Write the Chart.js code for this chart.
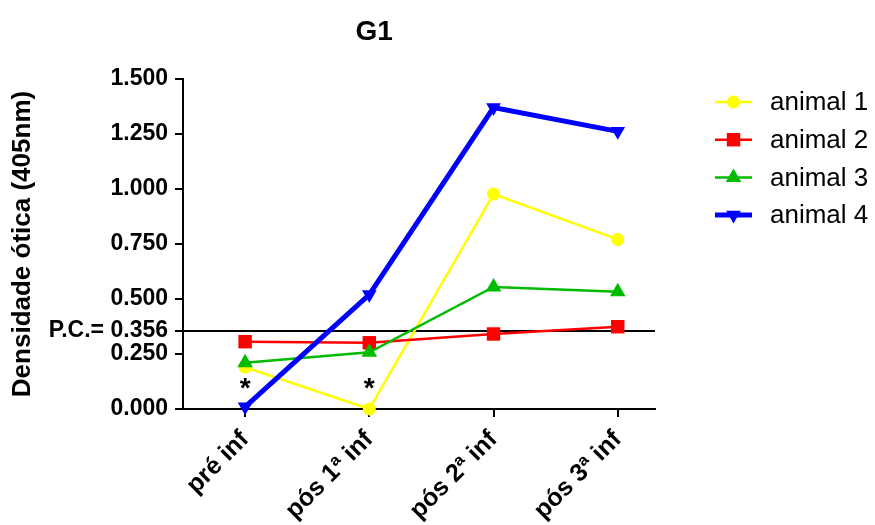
<!DOCTYPE html>
<html>
<head>
<meta charset="utf-8">
<script src="https://cdn.jsdelivr.net/npm/chart.js@4"></script>
<style>
  html, body { margin: 0; padding: 0; background: #fff; }
  #wrap { width: 875px; height: 525px; }
</style>
</head>
<body>
<div id="wrap"><canvas id="chart" width="875" height="525"></canvas></div>
<script>
/* data */
const categories = ['pré inf', 'pós 1ª inf', 'pós 2ª inf', 'pós 3ª inf'];
const animal1 = [0.19, 0.0, 0.977, 0.771];
const animal2 = [0.306, 0.301, 0.341, 0.374];
const animal3 = [0.21, 0.258, 0.555, 0.533];
const animal4 = [0.01, 0.52, 1.37, 1.262];
const seriesNames = ['animal 1', 'animal 2', 'animal 3', 'animal 4'];
const yTicks = [0, 0.25, 0.356, 0.5, 0.75, 1.0, 1.25, 1.5];
const cutoff = 0.356;
// asterisks marked under these categories
const starCategories = [0, 1];
const starValue = 0.113;

const FONT = '"Liberation Sans", Arial, sans-serif';

function points(arr) {
  return arr.map((v, i) => ({ x: i, y: v }));
}

function marker(ctx, style, rot, r, x, y, color) {
  ctx.save();
  ctx.fillStyle = color;
  ctx.beginPath();
  if (style === 'circle') {
    ctx.arc(x, y, r, 0, Math.PI * 2);
  } else if (style === 'rect') {
    let s = Math.SQRT1_2 * r;
    ctx.rect(x - s, y - s, 2 * s, 2 * s);
  } else {
    let rad = rot * Math.PI / 180;
    for (let k = 0; k < 3; k++) {
      let a = rad + k * 2 * Math.PI / 3;
      let px = x + Math.sin(a) * r, py = y - Math.cos(a) * r;
      if (k === 0) ctx.moveTo(px, py); else ctx.lineTo(px, py);
    }
    ctx.closePath();
  }
  ctx.fill();
  ctx.restore();
}

const extras = {
  id: 'extras',
  afterDraw(chart) {
    const ctx = chart.ctx;
    const area = chart.chartArea;
    const xs = chart.scales.x, ys = chart.scales.y;
    ctx.save();
    // title
    ctx.fillStyle = '#000';
    ctx.font = 'bold 28px ' + FONT;
    ctx.textAlign = 'center';
    ctx.textBaseline = 'middle';
    ctx.fillText('G1', area.left + (area.right - area.left) * 0.405, 32);

    // asterisks
    ctx.font = 'bold 28px ' + FONT;
    ctx.textBaseline = 'alphabetic';
    starCategories.forEach(i => {
      ctx.fillText('*', xs.getPixelForValue(i), ys.getPixelForValue(starValue) + 13);
    });

    // legend
    ctx.font = '26px ' + FONT;
    ctx.textAlign = 'left';
    ctx.textBaseline = 'middle';
    chart.data.datasets.forEach((ds, i) => {
      const y = 102 + i * 37.7;
      ctx.strokeStyle = ds.borderColor;
      ctx.lineWidth = ds.borderWidth;
      ctx.beginPath();
      ctx.moveTo(715, y);
      ctx.lineTo(752, y);
      ctx.stroke();
      marker(ctx, ds.pointStyle, ds.pointRotation || 0, ds.pointRadius, 733.5, y, ds.pointBackgroundColor);
      ctx.fillStyle = '#000';
      ctx.fillText(ds.label, 770, y + 1);
    });
    ctx.restore();
  }
};

const ctx = document.getElementById('chart').getContext('2d');
new Chart(ctx, {
  type: 'line',
  data: {
    datasets: [
      {
        label: seriesNames[0], data: points(animal1),
        borderColor: '#ffff00', backgroundColor: '#ffff00', pointBackgroundColor: '#ffff00',
        borderWidth: 2.5, pointStyle: 'circle', pointRadius: 6.5, pointBorderWidth: 0,
        order: 3, clip: false
      },
      {
        label: seriesNames[1], data: points(animal2),
        borderColor: '#ff0000', backgroundColor: '#ff0000', pointBackgroundColor: '#ff0000',
        borderWidth: 2.5, pointStyle: 'rect', pointRadius: 9.5, pointBorderWidth: 0,
        order: 2, clip: false
      },
      {
        label: seriesNames[2], data: points(animal3),
        borderColor: '#00bb00', backgroundColor: '#00bb00', pointBackgroundColor: '#00bb00',
        borderWidth: 2.5, pointStyle: 'triangle', pointRadius: 9, pointBorderWidth: 0,
        order: 1, clip: false
      },
      {
        label: seriesNames[3], data: points(animal4),
        borderColor: '#0000ff', backgroundColor: '#0000ff', pointBackgroundColor: '#0000ff',
        borderWidth: 5, pointStyle: 'triangle', pointRotation: 180, pointRadius: 8.5, pointBorderWidth: 0,
        order: 0, clip: false
      }
    ]
  },
  options: {
    responsive: false,
    animation: false,
    layout: { padding: { top: 79, right: 220, bottom: 0, left: 0 } },
    plugins: {
      legend: { display: false },
      title: { display: false },
      tooltip: { enabled: false }
    },
    scales: {
      x: {
        type: 'linear',
        min: -0.5,
        max: 3.3,
        afterBuildTicks: s => { s.ticks = categories.map((c, i) => ({ value: i })); },
        afterFit: s => { s.height = 116; },
        ticks: {
          autoSkip: false,
          maxRotation: 45,
          minRotation: 45,
          padding: 8,
          color: '#000',
          font: { family: FONT, size: 25, weight: 'bold' },
          callback: v => categories[v]
        },
        grid: { drawOnChartArea: false, color: '#000', lineWidth: 2, tickLength: 8 },
        border: { color: '#000', width: 2 }
      },
      y: {
        min: 0,
        max: 1.5,
        afterBuildTicks: s => { s.ticks = yTicks.map(v => ({ value: v })); },
        afterFit: s => { s.width = 183; },
        ticks: {
          autoSkip: false,
          padding: 7,
          color: '#000',
          font: { family: FONT, size: 23, weight: 'bold' },
          callback: v => v === cutoff ? 'P.C.= ' + v.toFixed(3) : v.toFixed(3)
        },
        grid: {
          drawOnChartArea: true,
          color: c => (c.tick && c.tick.value === cutoff) ? '#000' : 'rgba(0,0,0,0)',
          tickColor: '#000',
          lineWidth: 2,
          tickLength: 8
        },
        border: { color: '#000', width: 2 },
        title: {
          display: true,
          text: 'Densidade ótica (405nm)',
          color: '#000',
          font: { family: FONT, size: 26, weight: 'bold' },
          padding: { top: 7, bottom: 0 }
        }
      }
    }
  },
  plugins: [extras]
});
</script>
</body>
</html>
